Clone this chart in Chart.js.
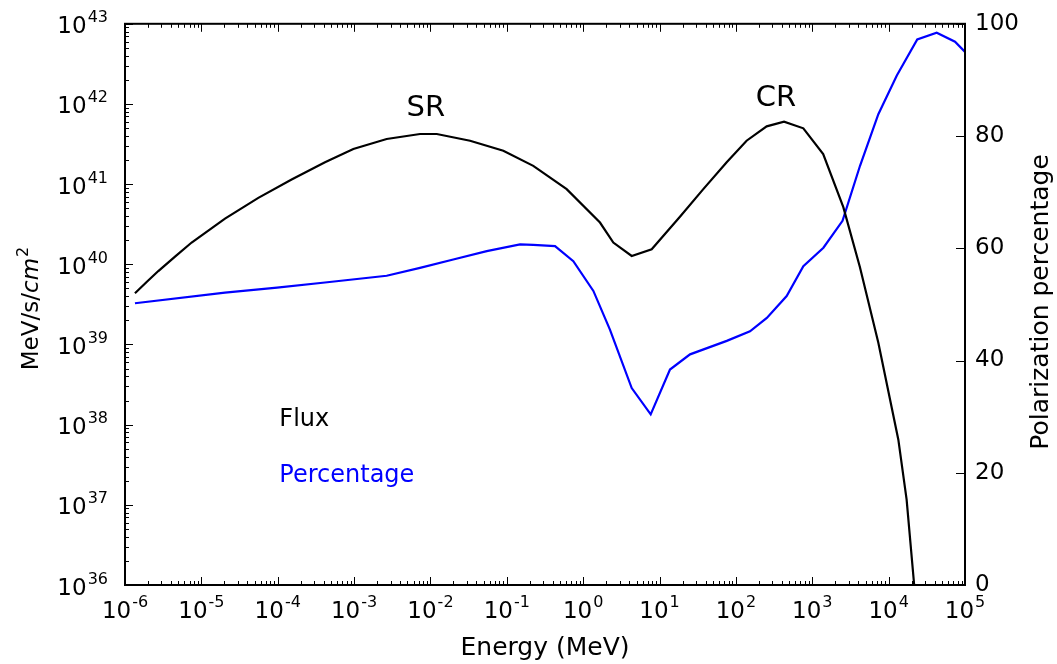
<!DOCTYPE html>
<html>
<head>
<meta charset="utf-8">
<script src="https://cdn.jsdelivr.net/npm/chart.js@4.4.0/dist/chart.umd.min.js"></script>
<style>
  html, body { margin: 0; padding: 0; background: #fff; }
  #wrap { width: 1057px; height: 664px; }
</style>
</head>
<body>
<div id="wrap"><canvas id="chart" width="1057" height="664"></canvas></div>
<script>
// Flux curve: energy (MeV) and flux (MeV/s/cm^2)
const fluxEnergy = [1.35e-6, 1.92e-6, 2.73e-6, 4.52e-6, 7.46e-6, 2.04e-5, 5.57e-5, 1.52e-4, 4.16e-4, 9.77e-4,
  2.67e-3, 7.30e-3, 1.21e-2, 3.30e-2, 9.0e-2, 0.222, 0.608, 1.66, 2.48, 4.32, 7.89, 18.5,
  37.4, 75.7, 138, 253, 427, 764, 1390, 2550, 4210, 7330, 1.34e4, 1.72e4, 2.16e4];
const flux = [4.35e39, 6.01e39, 8.24e39, 1.25e40, 1.87e40, 3.72e40, 6.74e40, 1.14e41, 1.87e41, 2.74e41,
  3.66e41, 4.22e41, 4.22e41, 3.48e41, 2.61e41, 1.69e41, 8.67e40, 3.32e40, 1.87e40, 1.27e40, 1.54e40, 3.93e40,
  8.67e40, 1.87e41, 3.48e41, 5.26e41, 6.01e41, 4.97e41, 2.37e41, 5.16e40, 9.18e39, 1.05e39, 6.50e37, 1.16e37, 1.0e36];

// Polarization curve: energy (MeV) and percentage
const polEnergy = [1.35e-6, 2.04e-5, 9.8e-5, 4.16e-4, 2.67e-3, 7.30e-3, 1.99e-2, 5.46e-2,
  0.149, 0.222, 0.428, 0.743, 1.36, 2.24, 4.32, 7.66, 13.7, 25.1, 75.9, 153,
  254, 462, 764, 1400, 2490, 4220, 7330, 1.28e4, 2.37e4, 4.26e4, 7.40e4, 1e5];
const polarization = [50.2, 52.1, 53.0, 53.9, 55.1, 56.5, 58.0, 59.5,
  60.7, 60.6, 60.4, 57.7, 52.4, 45.5, 35.1, 30.4, 38.4, 41.1, 43.5, 45.2,
  47.6, 51.5, 56.8, 60.1, 64.9, 74.7, 83.9, 90.8, 97.2, 98.4, 96.8, 95.0];

// tick labels
const xTickExponents = [-6, -5, -4, -3, -2, -1, 0, 1, 2, 3, 4, 5];
const yTickExponents = [36, 37, 38, 39, 40, 41, 42, 43];
const pctTicks = [0, 20, 40, 60, 80, 100];

// text notes placed in data coordinates (energy, flux)
const noteText = ['SR', 'CR', 'Flux', 'Percentage'];
const noteEnergy = [8.7e-3, 334, 1.05e-4, 1.05e-4];
const noteFlux = [7.1e41, 9.4e41, 9.7e37, 1.95e37];

const FONT = '"DejaVu Sans", "Bitstream Vera Sans", sans-serif';
Chart.defaults.font.family = FONT;
Chart.defaults.color = '#000';

// "10" with a raised exponent, like matplotlib's mathtext labels
function drawPow10(ctx, e, px, py, align) {
  const exp = String(e);
  ctx.font = '23px ' + FONT; const wb = ctx.measureText('10').width;
  ctx.font = '16px ' + FONT; const we = ctx.measureText(exp).width;
  const w = wb + we + 1;
  const sx = align === 'center' ? px - w / 2 : px - w;
  ctx.textAlign = 'left';
  ctx.textBaseline = 'alphabetic';
  ctx.font = '23px ' + FONT; ctx.fillText('10', sx, py);
  ctx.font = '16px ' + FONT; ctx.fillText(exp, sx + wb + 1, py - 11);
}

// inward ticks, frame, power-of-ten labels, rotated y titles and the text notes
const decor = {
  id: 'decor',
  afterDraw(chart) {
    const { ctx, chartArea: a, scales } = chart;
    const x = scales.x, y = scales.y, y2 = scales.y2;
    ctx.save();
    ctx.strokeStyle = '#000';
    ctx.lineWidth = 1;
    ctx.beginPath();
    xTickExponents.forEach((e, i) => {
      const last = i === xTickExponents.length - 1;
      for (let k = 1; k <= (last ? 1 : 9); k++) {
        const px = Math.round(x.getPixelForValue(k * Math.pow(10, e))) + 0.5;
        const len = k === 1 ? 8 : 4;
        ctx.moveTo(px, a.bottom); ctx.lineTo(px, a.bottom - len);
        ctx.moveTo(px, a.top); ctx.lineTo(px, a.top + len);
      }
    });
    yTickExponents.forEach((e, i) => {
      const last = i === yTickExponents.length - 1;
      for (let k = 1; k <= (last ? 1 : 9); k++) {
        const py = Math.round(y.getPixelForValue(k * Math.pow(10, e))) + 0.5;
        const len = k === 1 ? 8 : 4;
        ctx.moveTo(a.left, py); ctx.lineTo(a.left + len, py);
      }
    });
    pctTicks.forEach(v => {
      const py = Math.round(y2.getPixelForValue(v)) + 0.5;
      ctx.moveTo(a.right, py); ctx.lineTo(a.right - 9, py);
    });
    ctx.stroke();
    ctx.lineWidth = 2;
    ctx.strokeRect(a.left, a.top, a.width, a.height);

    ctx.fillStyle = '#000';
    xTickExponents.forEach(e => drawPow10(ctx, e, x.getPixelForValue(Math.pow(10, e)), a.bottom + 33, 'center'));
    yTickExponents.forEach(e => drawPow10(ctx, e, a.left - 17, y.getPixelForValue(Math.pow(10, e)) + 9.5, 'right'));

    // left title: MeV/s/cm^2 with italic cm
    ctx.textBaseline = 'alphabetic';
    ctx.textAlign = 'left';
    const f1 = '23px ' + FONT, f2 = 'italic 23px ' + FONT, f3 = '16px ' + FONT;
    ctx.font = f1; const w1 = ctx.measureText('MeV/s/').width;
    ctx.font = f2; const w2 = ctx.measureText('cm').width;
    ctx.font = f3; const w3 = ctx.measureText('2').width;
    ctx.save();
    ctx.translate(38, 309);
    ctx.rotate(-Math.PI / 2);
    let sx = -(w1 + w2 + w3) / 2;
    ctx.font = f1; ctx.fillText('MeV/s/', sx, 0); sx += w1;
    ctx.font = f2; ctx.fillText('cm', sx, 0); sx += w2;
    ctx.font = f3; ctx.fillText('2', sx + 1, -10);
    ctx.restore();

    // right title
    ctx.save();
    ctx.translate(1048, 302);
    ctx.rotate(-Math.PI / 2);
    ctx.textAlign = 'center';
    ctx.font = '25px ' + FONT;
    ctx.fillText('Polarization percentage', 0, 0);
    ctx.restore();

    // notes
    noteText.forEach((t, i) => {
      const big = t.length === 2;
      ctx.font = (big ? '29px ' : '24px ') + FONT;
      ctx.textAlign = big ? 'center' : 'left';
      ctx.fillStyle = t === 'Percentage' ? '#0000ff' : '#000';
      ctx.fillText(t, x.getPixelForValue(noteEnergy[i]), y.getPixelForValue(noteFlux[i]));
    });
    ctx.restore();
  }
};

new Chart(document.getElementById('chart'), {
  type: 'line',
  data: {
    datasets: [
      {
        label: 'Flux',
        data: fluxEnergy.map((e, i) => ({ x: e, y: flux[i] })),
        borderColor: '#000000',
        borderWidth: 2.2,
        pointRadius: 0,
        tension: 0,
        fill: false,
        yAxisID: 'y'
      },
      {
        label: 'Percentage',
        data: polEnergy.map((e, i) => ({ x: e, y: polarization[i] })),
        borderColor: '#0000ff',
        borderWidth: 2.2,
        pointRadius: 0,
        tension: 0,
        fill: false,
        yAxisID: 'y2'
      }
    ]
  },
  options: {
    responsive: false,
    animation: false,
    events: [],
    layout: { padding: { top: 22, left: 0, right: 0, bottom: 0 } },
    plugins: { legend: { display: false }, tooltip: { enabled: false } },
    scales: {
      x: {
        type: 'logarithmic',
        min: 1e-6,
        max: 1e5,
        afterBuildTicks: s => { s.ticks = xTickExponents.map(e => ({ value: Math.pow(10, e) })); },
        afterFit: s => { s.height = 79; },
        grid: { display: false, drawTicks: false },
        border: { display: false },
        ticks: { display: false },
        title: { display: true, text: 'Energy (MeV)', font: { size: 25 }, color: '#000', padding: { top: 0, bottom: 1 } }
      },
      y: {
        type: 'logarithmic',
        position: 'left',
        min: 1e36,
        max: 1e43,
        afterBuildTicks: s => { s.ticks = yTickExponents.map(e => ({ value: Math.pow(10, e) })); },
        afterFit: s => { s.width = 125; },
        grid: { display: false, drawTicks: false },
        border: { display: false },
        ticks: { display: false }
      },
      y2: {
        type: 'linear',
        position: 'right',
        min: 0,
        max: 100,
        afterBuildTicks: s => { s.ticks = pctTicks.map(v => ({ value: v })); },
        afterFit: s => { s.width = 92; },
        grid: { display: false, drawTicks: false },
        border: { display: false },
        ticks: { autoSkip: false, padding: 10, font: { size: 23 }, color: '#000' }
      }
    }
  },
  plugins: [decor]
});
</script>
</body>
</html>
